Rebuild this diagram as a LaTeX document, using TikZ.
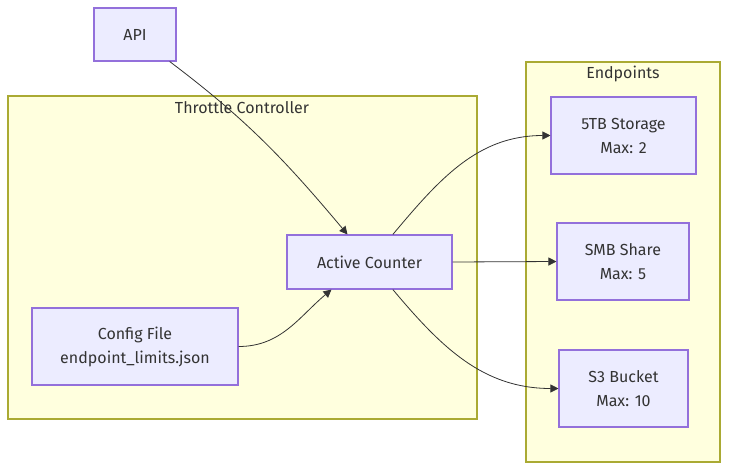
\documentclass[tikz,border=0pt]{standalone}
\usepackage{fontspec}
\setmainfont{Fira Sans}
\usetikzlibrary{arrows.meta}
\usetikzlibrary{fit}

\definecolor{boxfill}{HTML}{ECECFF}
\definecolor{boxline}{HTML}{9370DB}
\definecolor{groupfill}{HTML}{FFFFDE}
\definecolor{groupline}{HTML}{AAAA33}
\definecolor{ink}{HTML}{333333}

\begin{document}
\begin{tikzpicture} [
    x=0.75pt, y=-0.75pt,
    font=\fontsize{12}{18}\selectfont, text=ink,
    block/.style   = { rectangle, draw=boxline, fill=boxfill, line width=0.8pt,
                       align=center, inner sep=0pt },
    cluster/.style = { rectangle, draw=groupline, fill=groupfill, line width=0.8pt,
                       inner sep=0pt },
    title/.style   = { anchor=center, inner sep=0pt },
    line/.style    = { draw=ink, line width=0.6pt, -{Triangle[length=6pt,width=6pt]} },
  ]
\useasboundingbox (0,0) rectangle (736,475);

% groups
\node [cluster, fit={(8,96) (477,419)}]   (throttle)  {};
\node [cluster, fit={(526,62) (720,462)}] (endpoints) {};
\node [title] (throttlet)  at (242,108) {Throttle Controller};
\node [title] (endpointst) at (623,74)  {Endpoints};

% nodes
\node [block, minimum width=61.5pt,  minimum height=39.75pt] (api)     at (135,34.5)  {API};
\node [block, minimum width=123.75pt, minimum height=40.5pt] (counter) at (369.5,262) {Active Counter};
\node [block, minimum width=154.5pt, minimum height=57.75pt] (config)  at (135,346.5) {Config File\\endpoint\_limits.json};
\node [block, minimum width=108.75pt, minimum height=57.75pt] (storage) at (623.5,135.5) {5TB Storage\\Max: 2};
\node [block, minimum width=99pt,    minimum height=57.75pt] (smb)     at (623,261.5) {SMB Share\\Max: 5};
\node [block, minimum width=96.75pt, minimum height=57.75pt] (bucket)  at (623.5,388.5) {S3 Bucket\\Max: 10};

\begin{scope} [every path/.style=line]
    \path ([xshift=26pt]api.south)      to [out=-37, in=130] ([xshift=-16.5pt]counter.north);
    \path (config.east)                 to [out=0,   in=-140] ([xshift=-28.5pt]counter.south);
    \path ([xshift=17.5pt]counter.north) to [out=50,  in=180] (storage.west);
    \path (counter.east)                --                    (smb.west);
    \path ([xshift=17.5pt]counter.south) to [out=-50, in=180] (bucket.west);
\end{scope}

\end{tikzpicture}
\end{document}
